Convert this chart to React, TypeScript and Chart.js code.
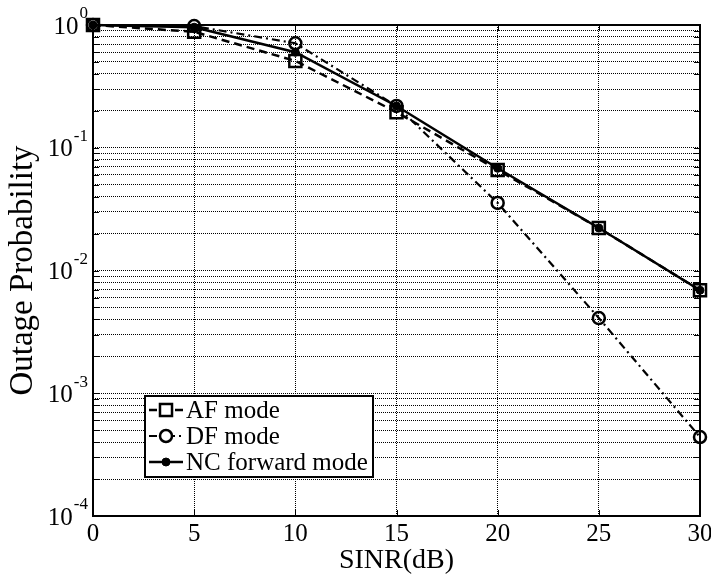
import React, { useEffect, useRef } from "react";
import { Chart, registerables } from "chart.js";

Chart.register(...registerables);

const sinr = [0, 5, 10, 15, 20, 25, 30];
const afMode = [1.0, 0.88, 0.51, 0.195, 0.066, 0.0222, 0.0069];
const dfMode = [1.0, 0.98, 0.71, 0.219, 0.0355, 0.0041, 0.00044];
const ncMode = [1.0, 0.96, 0.6, 0.219, 0.068, 0.0222, 0.0069];
const xTicks = [0, 5, 10, 15, 20, 25, 30];
const yDecades = [-4, -3, -2, -1, 0];
const seriesNames = ["AF mode", "DF mode", "NC forward mode"];

const FONT = "'Liberation Serif', 'Times New Roman', serif";

export default function App() {
  const ref = useRef<HTMLCanvasElement | null>(null);

  useEffect(() => {
    const canvas = ref.current;
    if (!canvas) return;
    document.body.style.margin = "0";

    const yTickVals: number[] = [];
    for (let d = yDecades[0]; d < yDecades[yDecades.length - 1]; d++) {
      for (let m = 1; m <= 9; m++) yTickVals.push(m * Math.pow(10, d));
    }
    yTickVals.push(Math.pow(10, yDecades[yDecades.length - 1]));

    const overlay = {
      id: "overlay",
      afterDraw(chart: any) {
        const ctx = chart.ctx as CanvasRenderingContext2D;
        const xs = chart.scales.x;
        const ys = chart.scales.y;
        const ca = chart.chartArea;
        ctx.save();
        // inward ticks
        ctx.strokeStyle = "#000";
        ctx.lineWidth = 1;
        ctx.setLineDash([]);
        ctx.beginPath();
        yTickVals.forEach((v) => {
          const py = Math.round(ys.getPixelForValue(v)) + 0.5;
          ctx.moveTo(ca.left, py);
          ctx.lineTo(ca.left + 6, py);
          ctx.moveTo(ca.right, py);
          ctx.lineTo(ca.right - 6, py);
        });
        xTicks.forEach((v) => {
          const px = Math.round(xs.getPixelForValue(v)) + 0.5;
          ctx.moveTo(px, ca.bottom);
          ctx.lineTo(px, ca.bottom - 6);
          ctx.moveTo(px, ca.top);
          ctx.lineTo(px, ca.top + 6);
        });
        ctx.stroke();
        // box
        ctx.lineWidth = 2;
        ctx.strokeRect(ca.left, ca.top, ca.right - ca.left, ca.bottom - ca.top);

        // x tick labels
        ctx.fillStyle = "#000";
        ctx.font = `25px ${FONT}`;
        ctx.textAlign = "center";
        ctx.textBaseline = "middle";
        xTicks.forEach((v) => {
          ctx.fillText(String(v), xs.getPixelForValue(v), ca.bottom + 18);
        });
        // y tick labels with superscript
        const rightEdge = ca.left - 5;
        yDecades.forEach((d) => {
          const py = ys.getPixelForValue(Math.pow(10, d));
          const sup = String(d);
          ctx.font = `17px ${FONT}`;
          const sw = ctx.measureText(sup).width;
          ctx.textAlign = "right";
          ctx.fillText(sup, rightEdge, py - 11);
          ctx.font = `25px ${FONT}`;
          ctx.fillText("10", rightEdge - sw - 1, py + 2);
        });
        // axis titles
        ctx.font = `28px ${FONT}`;
        ctx.textAlign = "center";
        ctx.fillText("SINR(dB)", (ca.left + ca.right) / 2, ca.bottom + 45);
        ctx.save();
        ctx.font = `33px ${FONT}`;
        ctx.translate(23, (ca.top + ca.bottom) / 2);
        ctx.rotate(-Math.PI / 2);
        ctx.fillText("Outage Probability", 0, 0);
        ctx.restore();

        // legend
        const lx = ca.left + 52;
        const ly = ca.top + 371;
        const lw = 228;
        const lh = 81;
        ctx.fillStyle = "#fff";
        ctx.fillRect(lx, ly, lw, lh);
        ctx.lineWidth = 2;
        ctx.strokeStyle = "#000";
        ctx.setLineDash([]);
        ctx.strokeRect(lx, ly, lw, lh);
        chart.data.datasets.forEach((ds: any, i: number) => {
          const cy = ly + 14 + i * 26;
          ctx.save();
          ctx.strokeStyle = "#000";
          ctx.lineWidth = ds.borderWidth;
          ctx.setLineDash(ds.borderDash || []);
          ctx.beginPath();
          ctx.moveTo(lx + 4, cy);
          ctx.lineTo(lx + 38, cy);
          ctx.stroke();
          ctx.setLineDash([]);
          ctx.lineWidth = ds.pointBorderWidth;
          const mx = lx + 21;
          if (ds.pointStyle === "rect") {
            const s = Math.SQRT1_2 * ds.pointRadius;
            ctx.fillStyle = "#fff";
            ctx.fillRect(mx - s, cy - s, 2 * s, 2 * s);
            ctx.strokeRect(mx - s, cy - s, 2 * s, 2 * s);
          } else {
            ctx.beginPath();
            ctx.arc(mx, cy, ds.pointRadius, 0, Math.PI * 2);
            ctx.fillStyle = ds.pointBackgroundColor === "#000" ? "#000" : "#fff";
            ctx.fill();
            ctx.stroke();
          }
          ctx.fillStyle = "#000";
          ctx.font = `25px ${FONT}`;
          ctx.textAlign = "left";
          ctx.textBaseline = "middle";
          ctx.fillText(ds.label, lx + 41, cy + 1);
          ctx.restore();
        });
        ctx.restore();
      },
    };

    const chart = new Chart(canvas, {
      type: "line",
      data: {
        labels: sinr,
        datasets: [
          {
            label: seriesNames[0],
            data: sinr.map((x, i) => ({ x, y: afMode[i] })),
            borderColor: "#000",
            borderWidth: 2.5,
            borderDash: [8, 5],
            pointStyle: "rect",
            pointRadius: 8.5,
            pointBorderWidth: 2.5,
            pointBorderColor: "#000",
            pointBackgroundColor: "rgba(0,0,0,0)",
            tension: 0,
            clip: false,
          },
          {
            label: seriesNames[1],
            data: sinr.map((x, i) => ({ x, y: dfMode[i] })),
            borderColor: "#000",
            borderWidth: 2.2,
            borderDash: [8, 4, 2, 4],
            pointStyle: "circle",
            pointRadius: 6,
            pointBorderWidth: 2.5,
            pointBorderColor: "#000",
            pointBackgroundColor: "rgba(0,0,0,0)",
            tension: 0,
            clip: false,
          },
          {
            label: seriesNames[2],
            data: sinr.map((x, i) => ({ x, y: ncMode[i] })),
            borderColor: "#000",
            borderWidth: 2.5,
            borderDash: [],
            pointStyle: "circle",
            pointRadius: 4,
            pointBorderWidth: 1,
            pointBorderColor: "#000",
            pointBackgroundColor: "#000",
            tension: 0,
            clip: false,
          },
        ] as any,
      },
      options: {
        responsive: false,
        animation: false,
        events: [],
        layout: { autoPadding: false, padding: { top: 25, right: 11, left: 0, bottom: 0 } },
        plugins: { legend: { display: false }, tooltip: { enabled: false } },
        scales: {
          x: {
            type: "linear",
            min: 0,
            max: 30,
            ticks: { display: false, stepSize: 5 },
            afterBuildTicks: (s: any) => {
              s.ticks = xTicks.map((v) => ({ value: v }));
            },
            afterFit: (s: any) => {
              s.height = 63;
              s.paddingLeft = 0;
              s.paddingRight = 0;
              s.paddingTop = 0;
              s.paddingBottom = 0;
            },
            grid: { color: "#000", lineWidth: 1, drawTicks: false },
            border: { display: false, dash: [1, 1] },
          },
          y: {
            type: "logarithmic",
            min: 1e-4,
            max: 1,
            ticks: { display: false },
            afterBuildTicks: (s: any) => {
              s.ticks = yTickVals.map((v) => ({ value: v }));
            },
            afterFit: (s: any) => {
              s.width = 93;
              s.paddingTop = 0;
              s.paddingBottom = 0;
              s.paddingLeft = 0;
              s.paddingRight = 0;
            },
            grid: { color: "#000", lineWidth: 1, drawTicks: false },
            border: { display: false, dash: [1, 1] },
          },
        },
      } as any,
      plugins: [overlay],
    });

    return () => chart.destroy();
  }, []);

  return (
    <div style={{ width: 711, height: 579 }}>
      <canvas ref={ref} width={711} height={579} style={{ display: "block" }} />
    </div>
  );
}
